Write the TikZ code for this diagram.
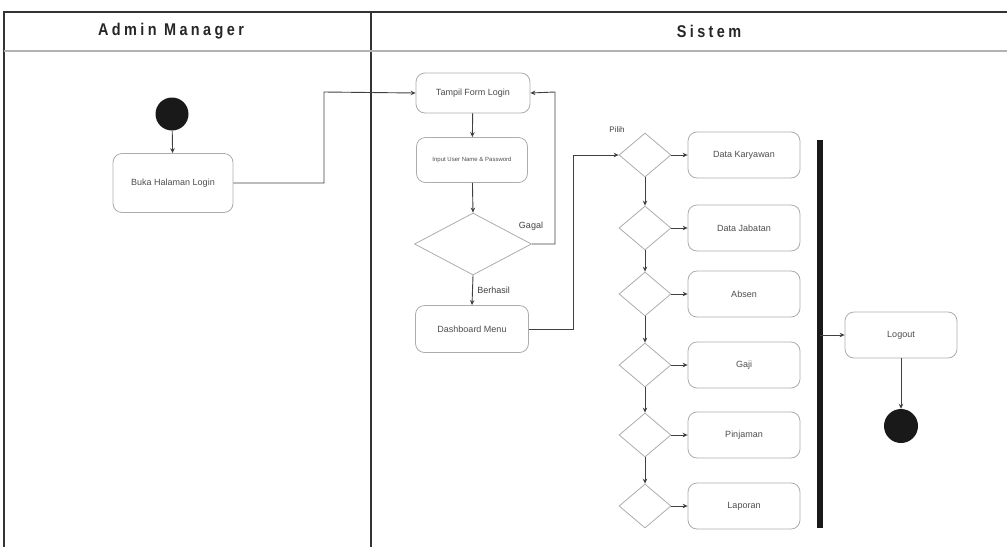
\documentclass[tikz,border=0pt]{standalone}
\usepackage{fontspec}
\setmainfont{Liberation Sans}
\newfontfamily\headfont[LetterSpace=20,FakeStretch=0.85]{Liberation Sans}
\usetikzlibrary{arrows.meta,shapes.geometric,positioning,calc}
\tikzset{
  lane/.style={draw=black!80, line width=1.3pt},
  act/.style={draw=gray!65, line width=0.8pt, rounded corners=9pt, minimum width=112pt, minimum height=46pt, inner sep=2pt, font=\fontsize{9}{10}\selectfont, text=black!70},
  choice/.style={draw=gray!65, line width=0.8pt, diamond, inner sep=0pt, minimum width=52pt, minimum height=44pt},
  flow/.style={draw=black!75, line width=0.9pt, -{Stealth[length=5pt,width=4.5pt]}},
  dot/.style={circle, fill=black!90, inner sep=0pt, minimum size=33pt},
  lbl/.style={font=\fontsize{9}{10}\selectfont, text=black!75},
  head/.style={font=\headfont\bfseries\fontsize{17}{19}\selectfont, text=black!85},
}
\begin{document}
\begin{tikzpicture}[x=1pt, y=-1pt]
\useasboundingbox (0,0) rectangle (1007,547);
% swimlanes
\draw[lane] (1007,12) -- (4,12) -- (4,547);
\draw[lane] (371,12) -- (371,547);
\draw[draw=gray!60, line width=2pt] (4,51) -- (1007,51);
\node[head] (hadmin) at (171,31) {Admin Manager};
\node[head] (hsistem) at (709,31) {Sistem};
% admin lane
\node[dot] (start) at (172,114) {};
\node[act, minimum width=120pt, minimum height=59pt] (buka) at (173,183) {Buka Halaman Login};
% sistem lane
\node[act, minimum width=114pt, minimum height=40pt] (tampil) at (473,93) {Tampil Form Login};
\node[act, minimum width=111pt, minimum height=45pt, font=\fontsize{6}{7}\selectfont] (input) at (472,160) {Input User Name \& Password};
\node[choice, minimum width=117pt, minimum height=62pt] (cek) at (473,244) {};
\node[act, minimum width=113pt, minimum height=47pt] (dash) at (472,329) {Dashboard Menu};
\foreach \nm/\yy/\txt in {karyawan/155/Data Karyawan, jabatan/228/Data Jabatan, absen/294/Absen, gaji/365/Gaji, pinjaman/435/Pinjaman, laporan/506/Laporan}
{
  \node[choice] (p\nm) at (645,\yy) {};
  \node[act] (m\nm) at (744,\yy) {\txt};
  \draw[flow] (p\nm.east) -- (m\nm.west);
}
\node[act] (logout) at (901,335) {Logout};
\node[dot, minimum size=34pt] (stop) at (901,426) {};
\fill[black!90] (817,140) rectangle (823,528);
\coordinate (barout) at (820,335);
% connectors
\draw[flow] (start) -- (buka);
\draw[flow] (buka.east) -- (324,183) -- (324,92) -- (tampil.west);
\draw[flow] (tampil) -- (input);
\draw[flow] (input) -- (cek.north);
\draw[flow] (cek.east) -- (555,244) -- (555,92) -- (tampil.east);
\draw[flow] (cek.south) -- (dash.north) node[lbl, midway, right=1pt] (berhasil) {Berhasil};
\node[lbl] (gagal) at (531,226) {Gagal};
\draw[flow] (dash.east) -- (573,329) -- (573,155) -- (pkaryawan.west);
\node[lbl, font=\fontsize{8}{9}\selectfont] (pilih) at (617,130) {Pilih};
\draw[flow] (pkaryawan.south) -- (pjabatan.north);
\draw[flow] (pjabatan.south) -- (pabsen.north);
\draw[flow] (pabsen.south) -- (pgaji.north);
\draw[flow] (pgaji.south) -- (ppinjaman.north);
\draw[flow] (ppinjaman.south) -- (plaporan.north);
\draw[flow] (barout) -- (logout.west);
\draw[flow] (logout) -- (stop);
\end{tikzpicture}
\end{document}
